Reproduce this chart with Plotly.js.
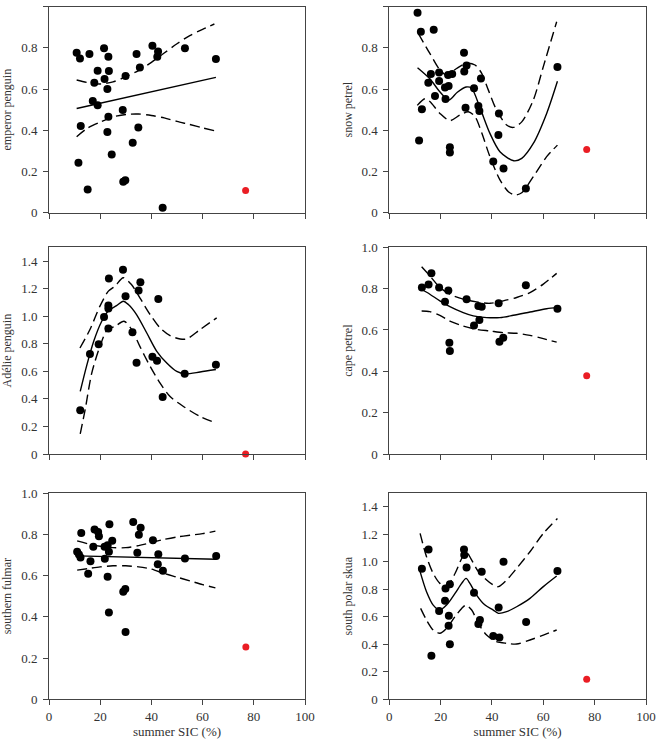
<!DOCTYPE html>
<html>
<head>
<meta charset="utf-8">
<script src="https://cdn.plot.ly/plotly-3.0.1.min.js"></script>
<style>html,body{margin:0;padding:0;background:#fff;}#chart{width:659px;height:739px;}</style>
</head>
<body>
<div id="chart"></div>
<script>
// ---------- tick labels ----------
const xTickVals = [0, 20, 40, 60, 80, 100];
const xTickText = ['0', '20', '40', '60', '80', '100'];
const yTickVals1 = [0, 0.2, 0.4, 0.6, 0.8, 1.0];
const yTickText1 = ['0', '0.2', '0.4', '0.6', '0.8', '1.0'];
const yTickVals15 = [0, 0.2, 0.4, 0.6, 0.8, 1.0, 1.2, 1.4];
const yTickText15 = ['0', '0.2', '0.4', '0.6', '0.8', '1.0', '1.2', '1.4'];
const xAxisTitle = 'summer SIC (%)';
const panelNames = ['emperor penguin', 'snow petrel', 'Adélie penguin', 'cape petrel', 'southern fulmar', 'south polar skua'];

// ---------- emperor penguin ----------
const emperorX = [10.8, 12.1, 15.8, 21.5, 23.2, 19.0, 23.4, 17.7, 21.7, 22.8, 17.1, 19.0, 23.2, 12.4, 22.8, 24.5, 11.5, 15.1, 29.9, 28.8, 29.0, 29.8, 32.7, 34.2, 35.5, 34.9, 40.4, 42.6, 42.3, 44.4, 53.1, 65.2];
const emperorY = [0.777, 0.749, 0.770, 0.798, 0.757, 0.689, 0.688, 0.631, 0.649, 0.600, 0.542, 0.521, 0.466, 0.421, 0.392, 0.282, 0.243, 0.113, 0.663, 0.498, 0.150, 0.157, 0.340, 0.770, 0.705, 0.414, 0.811, 0.782, 0.757, 0.024, 0.798, 0.746];
const emperorFitX = [10.8, 65.2];
const emperorFitY = [0.506, 0.657];
const emperorUpX = [10.8, 15, 20, 25, 30, 35, 40, 45, 50, 55, 60, 64.6];
const emperorUpY = [0.644, 0.632, 0.625, 0.635, 0.660, 0.690, 0.730, 0.775, 0.820, 0.860, 0.890, 0.916];
const emperorLoX = [10.8, 15, 20, 25, 30, 35, 40, 45, 50, 55, 60, 64.6];
const emperorLoY = [0.369, 0.410, 0.440, 0.465, 0.477, 0.479, 0.472, 0.460, 0.443, 0.428, 0.412, 0.398];
const emperorOutX = [76.8];
const emperorOutY = [0.108];

// ---------- snow petrel ----------
const snowX = [11.0, 12.3, 17.3, 11.6, 12.7, 15.2, 16.2, 17.8, 19.4, 19.4, 21.7, 21.9, 23.1, 22.9, 24.5, 23.6, 23.6, 29.1, 29.2, 30.1, 29.7, 33.0, 35.7, 34.7, 35.1, 42.7, 42.5, 40.5, 44.5, 53.2, 65.5];
const snowY = [0.971, 0.879, 0.888, 0.351, 0.502, 0.631, 0.673, 0.566, 0.680, 0.639, 0.608, 0.552, 0.615, 0.668, 0.673, 0.318, 0.292, 0.777, 0.686, 0.715, 0.510, 0.604, 0.652, 0.518, 0.494, 0.481, 0.377, 0.248, 0.214, 0.117, 0.707];
const snowFitX = [11.0, 15.8, 19.5, 23.2, 26.5, 29.9, 32.0, 35.3, 39.2, 43.1, 48.5, 51.6, 56.1, 61.3, 65.5];
const snowFitY = [0.704, 0.650, 0.590, 0.547, 0.585, 0.610, 0.605, 0.510, 0.385, 0.296, 0.252, 0.264, 0.336, 0.482, 0.638];
const snowUpX = [11.3, 15.8, 19.7, 22.3, 26.2, 30.1, 33.4, 36.0, 38.6, 41.8, 45.7, 48.3, 51.6, 56.1, 60.0, 65.2];
const snowUpY = [0.870, 0.773, 0.693, 0.668, 0.700, 0.725, 0.717, 0.676, 0.595, 0.498, 0.426, 0.414, 0.441, 0.547, 0.709, 0.927];
const snowLoX = [10.9, 13.9, 15.8, 19.7, 23.6, 27.5, 30.8, 33.4, 36.0, 39.2, 43.1, 46.4, 49.0, 51.6, 56.1, 61.3, 65.5];
const snowLoY = [0.521, 0.553, 0.540, 0.482, 0.447, 0.474, 0.490, 0.466, 0.388, 0.272, 0.159, 0.102, 0.086, 0.097, 0.175, 0.272, 0.328];
const snowOutX = [76.9];
const snowOutY = [0.307];

// ---------- Adélie penguin ----------
const adelieX = [12.2, 16.0, 19.4, 21.5, 23.2, 23.2, 23.4, 23.2, 28.9, 29.9, 32.6, 35.0, 35.7, 34.2, 40.4, 42.2, 42.7, 44.4, 53.0, 65.2];
const adelieY = [0.318, 0.726, 0.796, 0.995, 1.056, 1.077, 1.274, 0.910, 1.337, 1.145, 0.883, 1.187, 1.247, 0.662, 0.706, 0.677, 1.124, 0.413, 0.582, 0.648];
const adelieFitX = [12.2, 14.7, 17.5, 20.5, 23.2, 26.4, 29.0, 31.0, 34.2, 38.2, 42.1, 46.0, 49.9, 53.1, 59.0, 65.2];
const adelieFitY = [0.454, 0.640, 0.820, 0.960, 1.040, 1.077, 1.109, 1.085, 1.012, 0.878, 0.745, 0.660, 0.599, 0.582, 0.595, 0.613];
const adelieUpX = [12.1, 16.0, 19.9, 23.2, 25.8, 29.0, 32.2, 35.5, 39.5, 43.4, 47.3, 51.2, 53.8, 59.0, 65.5];
const adelieUpY = [0.769, 0.903, 1.073, 1.182, 1.218, 1.279, 1.230, 1.133, 1.012, 0.915, 0.859, 0.835, 0.835, 0.903, 0.988];
const adelieLoX = [12.2, 14.1, 16.7, 19.9, 22.8, 25.8, 29.3, 32.3, 35.5, 39.5, 43.4, 47.3, 52.5, 59.0, 64.8];
const adelieLoY = [0.146, 0.320, 0.587, 0.781, 0.903, 0.927, 0.963, 0.903, 0.781, 0.636, 0.514, 0.417, 0.345, 0.272, 0.228];
const adelieOutX = [76.8];
const adelieOutY = [0.0];

// ---------- cape petrel ----------
const capeX = [12.7, 15.3, 16.4, 19.4, 23.0, 21.7, 23.4, 23.6, 30.1, 34.7, 36.0, 35.1, 33.0, 42.6, 42.9, 44.4, 53.2, 65.5];
const capeY = [0.806, 0.820, 0.875, 0.806, 0.791, 0.736, 0.538, 0.498, 0.749, 0.716, 0.712, 0.648, 0.622, 0.729, 0.543, 0.562, 0.817, 0.703];
const capeFitX = [12.6, 15.8, 19.7, 23.6, 28.8, 32.7, 37.9, 43.1, 48.3, 54.8, 61.3, 65.5];
const capeFitY = [0.797, 0.773, 0.741, 0.713, 0.684, 0.668, 0.660, 0.660, 0.671, 0.687, 0.703, 0.708];
const capeUpX = [12.6, 15.8, 19.7, 23.6, 28.8, 34.0, 39.2, 44.4, 49.6, 54.8, 60.0, 65.2];
const capeUpY = [0.906, 0.862, 0.806, 0.773, 0.749, 0.736, 0.729, 0.741, 0.757, 0.781, 0.822, 0.874];
const capeLoX = [12.6, 15.8, 19.7, 23.6, 28.8, 34.0, 39.2, 44.4, 49.6, 54.8, 60.0, 65.2];
const capeLoY = [0.692, 0.689, 0.671, 0.643, 0.619, 0.603, 0.595, 0.587, 0.584, 0.574, 0.558, 0.541];
const capeOutX = [76.9];
const capeOutY = [0.379];

// ---------- southern fulmar ----------
const fulmarX = [11.0, 11.7, 12.3, 12.6, 15.3, 16.2, 17.3, 17.8, 19.2, 19.5, 21.7, 21.8, 22.9, 23.4, 23.6, 22.9, 23.4, 24.7, 29.0, 29.8, 29.9, 32.9, 35.1, 35.8, 34.5, 40.6, 42.7, 42.5, 44.5, 53.1, 65.3];
const fulmarY = [0.715, 0.702, 0.687, 0.806, 0.608, 0.669, 0.739, 0.823, 0.811, 0.790, 0.740, 0.681, 0.747, 0.715, 0.848, 0.594, 0.421, 0.769, 0.521, 0.535, 0.326, 0.860, 0.798, 0.832, 0.710, 0.771, 0.703, 0.655, 0.623, 0.682, 0.695];
const fulmarFitX = [11.0, 65.3];
const fulmarFitY = [0.695, 0.679];
const fulmarUpX = [11.0, 15.8, 20, 25, 30, 35, 40, 45, 50, 55, 60, 65.0];
const fulmarUpY = [0.768, 0.752, 0.742, 0.735, 0.735, 0.745, 0.760, 0.775, 0.787, 0.795, 0.803, 0.815];
const fulmarLoX = [11.0, 15, 20, 25, 30, 35, 40, 45, 50, 55, 60, 65.0];
const fulmarLoY = [0.626, 0.633, 0.642, 0.647, 0.647, 0.642, 0.631, 0.610, 0.592, 0.574, 0.556, 0.540];
const fulmarOutX = [76.9];
const fulmarOutY = [0.253];

// ---------- south polar skua ----------
const skuaX = [12.7, 15.3, 16.4, 19.4, 21.7, 21.9, 23.6, 23.2, 23.1, 23.6, 29.1, 29.2, 30.1, 33.0, 36.0, 34.7, 35.3, 40.5, 42.9, 42.6, 44.5, 53.3, 65.5];
const skuaY = [0.949, 1.090, 0.317, 0.642, 0.717, 0.806, 0.836, 0.608, 0.535, 0.400, 1.090, 1.049, 0.959, 0.775, 0.928, 0.547, 0.576, 0.460, 0.450, 0.668, 1.000, 0.562, 0.932];
const skuaFitX = [12.0, 14.5, 17.1, 19.7, 22.3, 25.6, 28.2, 29.9, 31.4, 34.0, 37.3, 40.5, 42.5, 45.7, 49.6, 54.8, 60.0, 65.2];
const skuaFitY = [0.928, 0.782, 0.685, 0.649, 0.685, 0.770, 0.843, 0.879, 0.843, 0.758, 0.685, 0.649, 0.625, 0.637, 0.673, 0.734, 0.819, 0.896];
const skuaUpX = [12.0, 14.5, 17.1, 19.7, 22.3, 25.6, 28.2, 29.9, 32.1, 34.7, 37.9, 40.5, 42.5, 45.7, 49.6, 54.8, 60.0, 65.5];
const skuaUpY = [1.206, 1.037, 0.915, 0.843, 0.819, 0.915, 1.024, 1.073, 1.012, 0.928, 0.867, 0.831, 0.819, 0.867, 0.952, 1.073, 1.206, 1.315];
const skuaLoX = [12.2, 14.5, 17.1, 19.7, 22.3, 25.6, 28.2, 29.9, 32.1, 34.7, 37.9, 41.8, 45.7, 49.6, 54.8, 60.0, 65.2];
const skuaLoY = [0.661, 0.576, 0.504, 0.480, 0.516, 0.601, 0.661, 0.685, 0.649, 0.552, 0.467, 0.419, 0.407, 0.402, 0.431, 0.467, 0.504];
const skuaOutX = [76.9];
const skuaOutY = [0.145];

// ---------- build ----------
const W = 659, H = 739;
const colPx = [[49, 305], [389.3, 646]];
const rowPx = [[6.7, 212.7], [247.3, 454], [493, 699.3]];
const FONT = "'Liberation Serif', 'Times New Roman', serif";

const panels = [
  {px: emperorX, py: emperorY, fx: emperorFitX, fy: emperorFitY, ux: emperorUpX, uy: emperorUpY, lx: emperorLoX, ly: emperorLoY, ox: emperorOutX, oy: emperorOutY, tall: false},
  {px: snowX, py: snowY, fx: snowFitX, fy: snowFitY, ux: snowUpX, uy: snowUpY, lx: snowLoX, ly: snowLoY, ox: snowOutX, oy: snowOutY, tall: false},
  {px: adelieX, py: adelieY, fx: adelieFitX, fy: adelieFitY, ux: adelieUpX, uy: adelieUpY, lx: adelieLoX, ly: adelieLoY, ox: adelieOutX, oy: adelieOutY, tall: true},
  {px: capeX, py: capeY, fx: capeFitX, fy: capeFitY, ux: capeUpX, uy: capeUpY, lx: capeLoX, ly: capeLoY, ox: capeOutX, oy: capeOutY, tall: false},
  {px: fulmarX, py: fulmarY, fx: fulmarFitX, fy: fulmarFitY, ux: fulmarUpX, uy: fulmarUpY, lx: fulmarLoX, ly: fulmarLoY, ox: fulmarOutX, oy: fulmarOutY, tall: false},
  {px: skuaX, py: skuaY, fx: skuaFitX, fy: skuaFitY, ux: skuaUpX, uy: skuaUpY, lx: skuaLoX, ly: skuaLoY, ox: skuaOutX, oy: skuaOutY, tall: true}
];

const traces = [];
const layout = {
  width: W, height: H,
  margin: {l: 0, r: 0, t: 0, b: 0},
  paper_bgcolor: '#fff', plot_bgcolor: '#fff',
  showlegend: false,
  font: {family: FONT, size: 13, color: '#222'}
};

panels.forEach((p, i) => {
  const n = i + 1;
  const xa = n === 1 ? 'x' : 'x' + n;
  const ya = n === 1 ? 'y' : 'y' + n;
  const col = i % 2, row = Math.floor(i / 2);
  const cx = colPx[col], ry = rowPx[row];
  const lineCommon = {xaxis: xa, yaxis: ya, mode: 'lines', hoverinfo: 'skip'};
  traces.push(Object.assign({x: p.ux, y: p.uy, line: {color: '#000', width: 1.4, dash: '10px,5px', shape: 'spline', smoothing: 0.8}}, lineCommon));
  traces.push(Object.assign({x: p.lx, y: p.ly, line: {color: '#000', width: 1.4, dash: '10px,5px', shape: 'spline', smoothing: 0.8}}, lineCommon));
  traces.push(Object.assign({x: p.fx, y: p.fy, line: {color: '#000', width: 1.4, shape: 'spline', smoothing: 0.8}}, lineCommon));
  traces.push({x: p.px, y: p.py, xaxis: xa, yaxis: ya, mode: 'markers', marker: {color: '#000', size: 8}});
  traces.push({x: p.ox, y: p.oy, xaxis: xa, yaxis: ya, mode: 'markers', marker: {color: '#ea1d24', size: 7}, cliponaxis: false});

  const axCommon = {
    showline: true, mirror: true, linecolor: '#444', linewidth: 1,
    ticks: 'outside', ticklen: 5, tickwidth: 1, tickcolor: '#444',
    showgrid: false, zeroline: false, fixedrange: true,
    tickfont: {family: FONT, size: 13, color: '#333'}
  };
  layout[(n === 1 ? 'xaxis' : 'xaxis' + n)] = Object.assign({}, axCommon, {
    domain: [cx[0] / W, cx[1] / W], anchor: ya,
    range: [0, 100], tickvals: xTickVals, ticktext: xTickText,
    showticklabels: row === 2,
    title: row === 2 ? {text: xAxisTitle, font: {family: FONT, size: 13, color: '#333'}, standoff: 4} : undefined
  });
  layout[(n === 1 ? 'yaxis' : 'yaxis' + n)] = Object.assign({}, axCommon, {
    domain: [(H - ry[1]) / H, (H - ry[0]) / H], anchor: xa,
    range: p.tall ? [0, 1.5] : [0, 1],
    tickvals: p.tall ? yTickVals15 : yTickVals1,
    ticktext: p.tall ? yTickText15 : yTickText1,
    ticklabelstandoff: 3,
    title: {text: panelNames[i], font: {family: FONT, size: 12, color: '#333'}, standoff: 6}
  });
});

Plotly.newPlot('chart', traces, layout, {staticPlot: true, displayModeBar: false});
</script>
</body>
</html>
